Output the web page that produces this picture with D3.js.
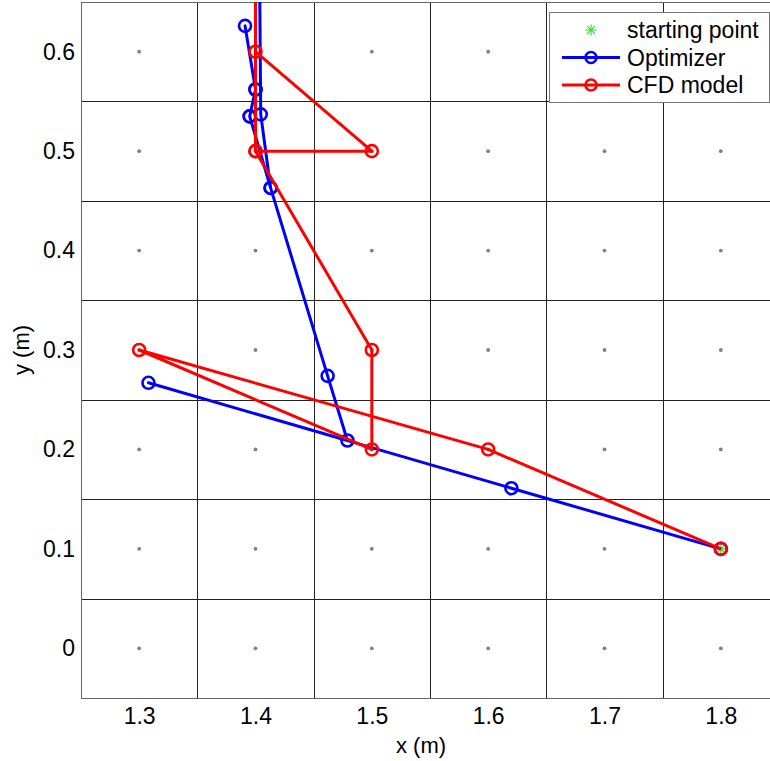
<!DOCTYPE html>
<html>
<head>
<meta charset="utf-8">
<script src="https://cdn.jsdelivr.net/npm/d3@7"></script>
<style>
  body { margin: 0; background: #fff; }
  svg { display: block; font-family: "Liberation Sans", Arial, sans-serif; }
</style>
</head>
<body>
<div id="chart"></div>
<script>
// grid cell centres (measurement points)
const gridX = [1.3, 1.4, 1.5, 1.6, 1.7, 1.8];
const gridY = [0, 0.1, 0.2, 0.3, 0.4, 0.5, 0.6];
const xTicks = [1.3, 1.4, 1.5, 1.6, 1.7, 1.8];
const yTicks = [0, 0.1, 0.2, 0.3, 0.4, 0.5, 0.6];
const cellEdgesX = [1.35, 1.45, 1.55, 1.65, 1.75];
const cellEdgesY = [0.05, 0.15, 0.25, 0.35, 0.45, 0.55];

const startPoint = [1.8, 0.1];

// optimizer path (x, y)
const optX = [1.8, 1.62, 1.308, 1.479, 1.462, 1.413, 1.395, 1.400, 1.391, 1.400, 1.395, 1.413, 1.4045, 1.403];
const optY = [0.1, 0.161, 0.267, 0.209, 0.274, 0.463, 0.535, 0.562, 0.626, 0.562, 0.535, 0.463, 0.537, 0.75];

// CFD model path (x, y)
const cfdX = [1.8, 1.6, 1.3, 1.5, 1.5, 1.4, 1.5, 1.4, 1.4, 1.4];
const cfdY = [0.1, 0.2, 0.3, 0.2, 0.3, 0.5, 0.5, 0.6, 0.5, 0.75];

const W = 770, H = 761;
const mLeft = 81, mTop = 2, pw = 698, ph = 696;

const svg = d3.select("#chart").append("svg")
    .attr("width", W)
    .attr("height", H);

const x = d3.scaleLinear().domain([1.25, 1.85]).range([mLeft, mLeft + pw]);
const y = d3.scaleLinear().domain([-0.05, 0.65]).range([mTop + ph, mTop]);

svg.append("defs").append("clipPath").attr("id", "clip")
    .append("rect")
    .attr("x", mLeft).attr("y", mTop)
    .attr("width", pw).attr("height", ph);

// cell borders
const grid = svg.append("g");
grid.selectAll(".vx")
    .data(cellEdgesX)
    .enter().append("line")
    .attr("x1", d => Math.round(x(d)) + 0.5).attr("x2", d => Math.round(x(d)) + 0.5)
    .attr("y1", mTop).attr("y2", mTop + ph)
    .attr("stroke", "#222").attr("stroke-width", 1);
grid.selectAll(".hy")
    .data(cellEdgesY)
    .enter().append("line")
    .attr("y1", d => Math.round(y(d)) + 0.5).attr("y2", d => Math.round(y(d)) + 0.5)
    .attr("x1", mLeft).attr("x2", mLeft + pw)
    .attr("stroke", "#222").attr("stroke-width", 1);

// centre dots
const centres = [];
gridX.forEach(gx => gridY.forEach(gy => centres.push([gx, gy])));
grid.selectAll("circle")
    .data(centres)
    .enter().append("circle")
    .attr("cx", d => x(d[0])).attr("cy", d => y(d[1]))
    .attr("r", 1.9)
    .attr("fill", "#808080");

// axes box
svg.append("rect")
    .attr("x", mLeft + 0.5).attr("y", mTop + 0.5)
    .attr("width", pw).attr("height", ph)
    .attr("fill", "none").attr("stroke", "#666");

// axes (labels only)
const xAxis = svg.append("g")
    .attr("transform", `translate(0,${mTop + ph})`)
    .call(d3.axisBottom(x).tickValues(xTicks).tickSize(0).tickPadding(10).tickFormat(d3.format(".1f")));
const yAxis = svg.append("g")
    .attr("transform", `translate(${mLeft},0)`)
    .call(d3.axisLeft(y).tickValues(yTicks).tickSize(0).tickPadding(6).tickFormat(d => d === 0 ? "0" : d3.format(".1f")(d)));
[xAxis, yAxis].forEach(a => {
    a.select(".domain").remove();
    a.attr("font-size", 23).attr("font-family", "'Liberation Sans', Arial, sans-serif");
    a.selectAll("text").attr("fill", "#000");
});

svg.append("text")
    .attr("x", mLeft + pw / 2 - 9).attr("y", 753)
    .attr("text-anchor", "middle").attr("font-size", 22)
    .text("x (m)");
svg.append("text")
    .attr("transform", `translate(29,${mTop + ph / 2}) rotate(-90)`)
    .attr("text-anchor", "middle").attr("font-size", 22)
    .text("y (m)");

// paths
const plot = svg.append("g").attr("clip-path", "url(#clip)");
const line = d3.line().x(d => x(d[0])).y(d => y(d[1]));

function drawSeries(xs, ys, color) {
    const pts = xs.map((v, i) => [v, ys[i]]);
    plot.append("path")
        .datum(pts)
        .attr("d", line)
        .attr("fill", "none")
        .attr("stroke", color)
        .attr("stroke-width", 3)
        .attr("stroke-linejoin", "round");
    plot.append("g").selectAll("circle")
        .data(pts)
        .enter().append("circle")
        .attr("cx", d => x(d[0])).attr("cy", d => y(d[1]))
        .attr("r", 6)
        .attr("fill", "none")
        .attr("stroke", color)
        .attr("stroke-width", 2.6);
}

function asterisk(g, cx, cy, r, color) {
    for (let k = 0; k < 4; k++) {
        const a = k * Math.PI / 4;
        g.append("line")
            .attr("x1", cx - r * Math.cos(a)).attr("y1", cy - r * Math.sin(a))
            .attr("x2", cx + r * Math.cos(a)).attr("y2", cy + r * Math.sin(a))
            .attr("stroke", color).attr("stroke-width", 1.2);
    }
}

asterisk(plot, x(startPoint[0]), y(startPoint[1]), 5, "#33dd33");
drawSeries(optX, optY, "#0000ff");
drawSeries(cfdX, cfdY, "#ff0000");

// legend
const lg = svg.append("g");
lg.append("rect")
    .attr("x", 549.5).attr("y", 12.5)
    .attr("width", 220).attr("height", 90)
    .attr("fill", "#fff").attr("stroke", "#777");
const entries = [
    { label: "starting point", color: "#33dd33", kind: "star" },
    { label: "Optimizer", color: "#0000ff", kind: "line" },
    { label: "CFD model", color: "#ff0000", kind: "line" }
];
entries.forEach((e, i) => {
    const cy = 30 + i * 27.5;
    if (e.kind === "star") {
        asterisk(lg, 591, cy, 5.5, e.color);
    } else {
        lg.append("line")
            .attr("x1", 562).attr("x2", 620)
            .attr("y1", cy).attr("y2", cy)
            .attr("stroke", e.color).attr("stroke-width", 3);
        lg.append("circle")
            .attr("cx", 591).attr("cy", cy).attr("r", 5.5)
            .attr("fill", "none").attr("stroke", e.color).attr("stroke-width", 2.6);
    }
    lg.append("text")
        .attr("x", 627).attr("y", cy)
        .attr("dy", "0.36em")
        .attr("font-size", 23)
        .text(e.label);
});
</script>
</body>
</html>
